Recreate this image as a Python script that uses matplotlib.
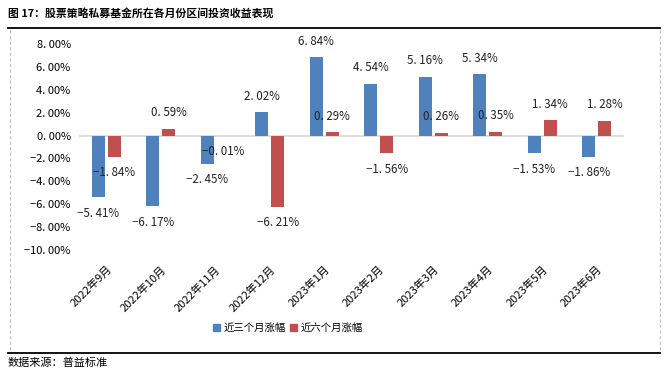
import numpy as np
import matplotlib.pyplot as plt
from matplotlib.lines import Line2D

plt.rcParams['font.family'] = ['Noto Sans CJK SC', 'DejaVu Sans']
plt.rcParams['axes.unicode_minus'] = False

# data
months = ["2022年9月", "2022年10月", "2022年11月", "2022年12月", "2023年1月",
          "2023年2月", "2023年3月", "2023年4月", "2023年5月", "2023年6月"]
three_month = [-5.41, -6.17, -2.45, 2.02, 6.84, 4.54, 5.16, 5.34, -1.53, -1.86]
six_month = [-1.84, 0.59, -0.01, -6.21, 0.29, -1.56, 0.26, 0.35, 1.34, 1.28]
series_names = ["近三个月涨幅", "近六个月涨幅"]
yticks = [8, 6, 4, 2, 0, -2, -4, -6, -8, -10]

blue = "#4F81BD"
red = "#C0504D"


def fmt(v):
    # Excel-style label with the wide full-width gap after the point
    s = f"{v:.2f}%"
    return s.replace(".", ". ").replace("-", "−")


fig = plt.figure(figsize=(6.71, 3.74), dpi=100)
ax = fig.add_axes([79 / 671, 1 - 250 / 374, (624 - 79) / 671, (250 - 44) / 374])

x = np.arange(len(months))
w = 0.24
off = 0.145
ax.bar(x - off, three_month, w, color=blue, zorder=3)
ax.bar(x + off, six_month, w, color=red, zorder=3)

# data labels, above positive bars, below negative bars
for xs, vals in ((x - off, three_month), (x + off, six_month)):
    for xi, v in zip(xs, vals):
        dy = 11.5 if v >= 0 else -11.5
        ax.annotate(fmt(v), (xi, v), xytext=(0, dy), textcoords="offset points",
                    ha="center", va="center", fontsize=8.3, color="#222222",
                    annotation_clip=False, zorder=4)

ax.set_xlim(-0.5, len(months) - 0.5)
ax.set_ylim(-10, 8)
ax.axhline(0, color="#D9D9D9", lw=1.2, zorder=2)
ax.set_yticks(yticks)
ax.set_yticklabels([fmt(t) for t in yticks], fontsize=8)
ax.set_xticks(x)
ax.set_xticklabels(months, rotation=45, ha="right", va="top",
                   rotation_mode="anchor", fontsize=8)
ax.tick_params(axis="both", length=0)
ax.tick_params(axis="x", pad=10)
ax.tick_params(axis="y", pad=6)
for sp in ax.spines.values():
    sp.set_visible(False)

# legend
handles = [plt.Rectangle((0, 0), 1, 1, color=blue),
           plt.Rectangle((0, 0), 1, 1, color=red)]
fig.legend(handles, series_names, loc="center", bbox_to_anchor=(288 / 671, 1 - 328 / 374),
           ncol=2, frameon=False, fontsize=7.5, handlelength=0.7, handleheight=0.7,
           handletextpad=0.35, columnspacing=0.4)

# title, frame and source note
fig.text(8 / 671, 1 - 13 / 374, "图 17：股票策略私募基金所在各月份区间投资收益表现",
         fontsize=7.8, fontweight="bold", va="center", ha="left")
fig.add_artist(Line2D([8 / 671, 660 / 671], [1 - 28 / 374] * 2, color="black", lw=1.3))
fig.add_artist(Line2D([8 / 671, 660 / 671], [1 - 353 / 374] * 2, color="black", lw=1.3))
for xp in (10, 660):
    fig.add_artist(Line2D([xp / 671] * 2, [1 - 30 / 374, 1 - 352 / 374],
                          color="#BFBFBF", lw=0.8, ls=(0, (3, 2))))
fig.text(8 / 671, 1 - 363 / 374, "数据来源：普益标准", fontsize=8, va="center", ha="left")

fig.savefig("out.png", dpi=100)
